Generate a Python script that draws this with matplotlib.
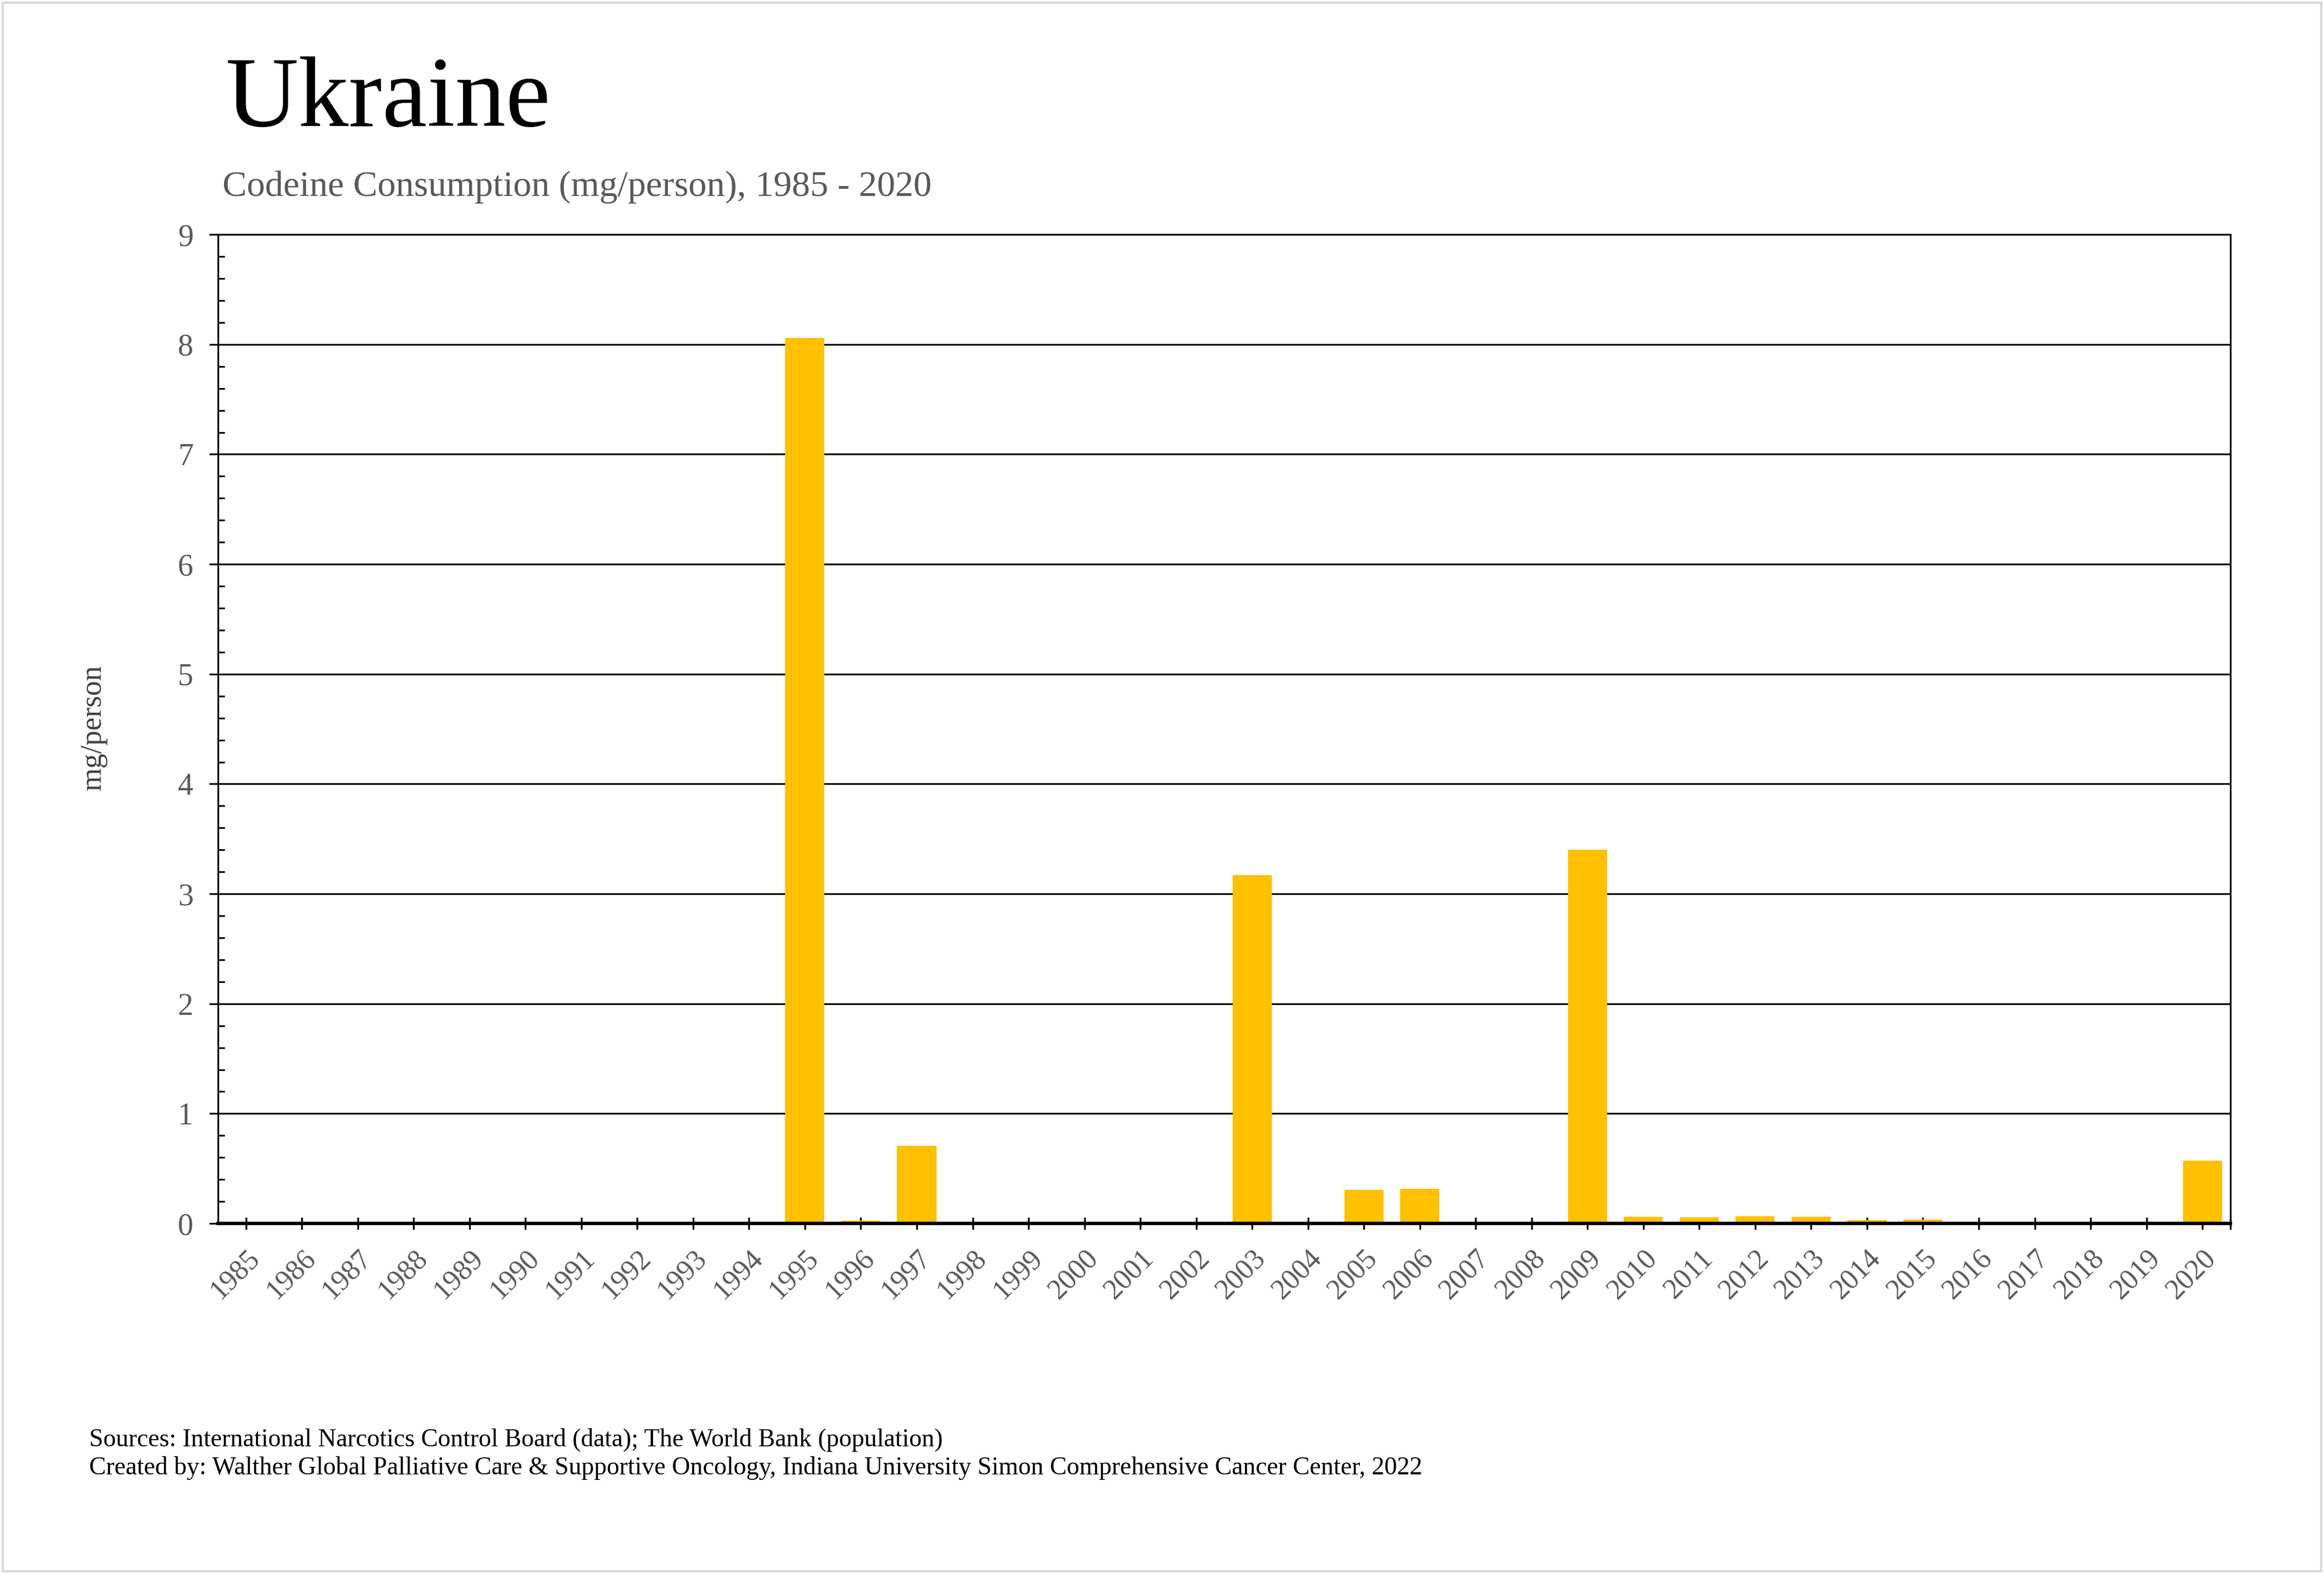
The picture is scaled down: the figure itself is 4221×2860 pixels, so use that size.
import numpy as np
import matplotlib
matplotlib.use('Agg')
import matplotlib.pyplot as plt
from matplotlib.patches import Rectangle
from matplotlib.ticker import MultipleLocator, FixedLocator

# ── data ──
years = list(range(1985, 2021))
codeine_mg = [0, 0, 0, 0, 0, 0, 0, 0, 0, 0,
              8.06, 0.023, 0.707, 0, 0, 0, 0, 0,
              3.17, 0, 0.304, 0.314, 0, 0,
              3.40, 0.062, 0.053, 0.068, 0.058, 0.028, 0.033,
              0, 0, 0, 0, 0.572]

TITLE = 'Ukraine'
SUBTITLE = 'Codeine Consumption (mg/person), 1985 - 2020'
Y_LABEL = 'mg/person'
FOOTER = ['Sources: International Narcotics Control Board (data); The World Bank (population)',
          'Created by: Walther Global Palliative Care & Supportive Oncology, '
          'Indiana University Simon Comprehensive Cancer Center, 2022']

BAR_COLOR = '#FFC000'
GREY = '#595959'

plt.rcParams['font.family'] = ['Liberation Serif', 'DejaVu Serif']

fig = plt.figure(figsize=(4221 / 300, 2860 / 300), dpi=300)
ax = fig.add_axes([0.0938, 0.2227, 0.9597 - 0.0938, 0.851 - 0.2227])

x = np.arange(len(years))
ax.bar(x, codeine_mg, width=0.7, color=BAR_COLOR, zorder=3)

ax.set_xlim(-0.5, len(years) - 0.5)
ax.set_ylim(0, 9)

# y axis: gridlines at majors, minor ticks inward
ax.yaxis.set_major_locator(MultipleLocator(1))
ax.yaxis.set_minor_locator(MultipleLocator(0.2))
ax.grid(axis='y', which='major', color='black', linewidth=0.75, zorder=1)
ax.tick_params(axis='y', which='major', direction='out', length=3.8, width=0.75,
               labelsize=13.5, labelcolor=GREY, pad=7)
ax.tick_params(axis='y', which='minor', direction='in', length=2.9, width=0.75)

# x axis: crossing ticks at every year, rotated labels
ax.set_xticks(x)
ax.set_xticklabels([str(y) for y in years], rotation=45, ha='right',
                   rotation_mode='anchor')
ax.xaxis.set_minor_locator(FixedLocator([len(years) - 0.5]))
ax.tick_params(axis='x', which='both', direction='inout', length=5.5, width=0.8,
               labelsize=12.5, labelcolor=GREY, pad=6.5)

for side in ['left', 'right', 'top']:
    ax.spines[side].set_linewidth(0.75)
ax.spines['bottom'].set_linewidth(1.5)
ax.spines['bottom'].set_zorder(4)

# titles and labels
fig.text(0.097, 0.92, TITLE, fontsize=44, color='black', ha='left', va='baseline')
fig.text(0.0958, 0.8755, SUBTITLE, fontsize=15.9, color=GREY, ha='left', va='baseline')
fig.text(0.0402, 0.538, Y_LABEL, fontsize=13, color='#404040', rotation=90,
         ha='center', va='center')
fig.text(0.0383, 0.081, FOOTER[0], fontsize=11, color='black', ha='left', va='baseline')
fig.text(0.0383, 0.0633, FOOTER[1], fontsize=11, color='black', ha='left', va='baseline')

# light frame round the whole picture
fig.patches.append(Rectangle((0.0012, 0.0018), 0.9976, 0.9964, transform=fig.transFigure,
                             fill=False, edgecolor='#d9d9d9', linewidth=1.0))

fig.savefig('out.png', dpi=300, facecolor='white')
plt.close(fig)
